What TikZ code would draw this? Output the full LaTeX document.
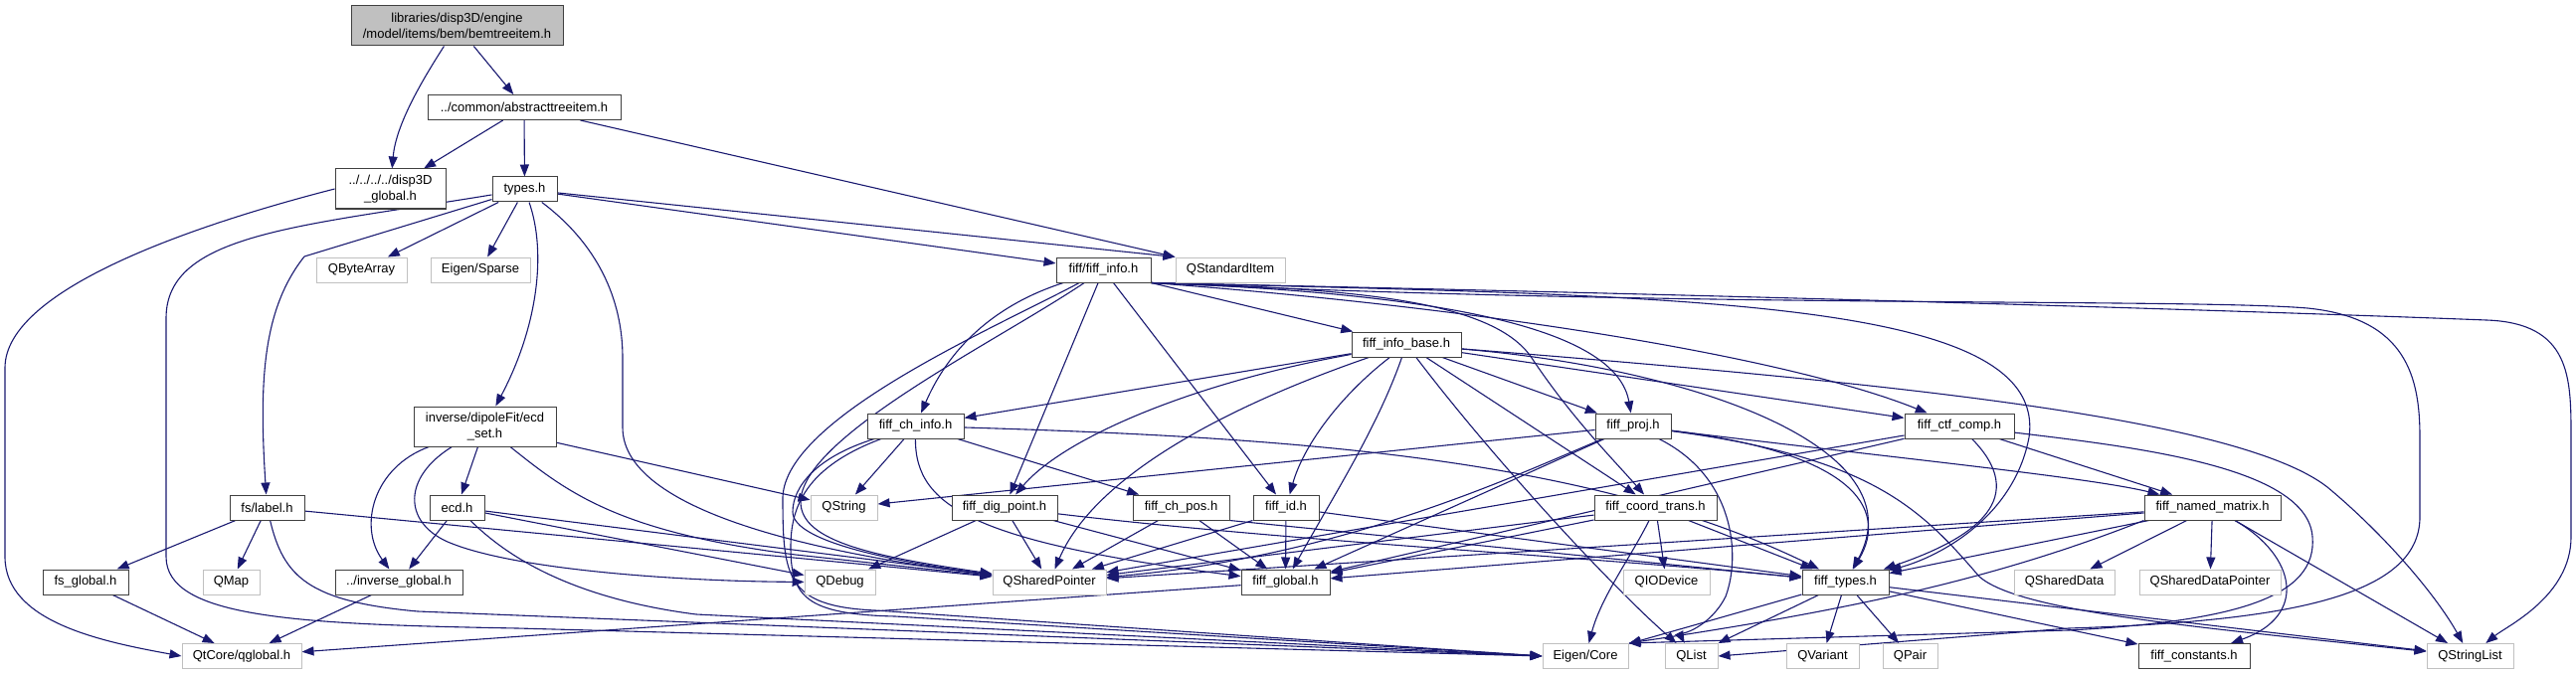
\documentclass[tikz,border=0pt]{standalone}
\usepackage{fontspec}
\setmainfont{Liberation Sans}
\usetikzlibrary{arrows.meta}
\pgfdeclarelayer{bg}
\pgfsetlayers{bg,main}
\definecolor{edgeblue}{HTML}{191970}
\definecolor{boxdark}{HTML}{404040}
\definecolor{boxlight}{HTML}{C0C0C0}
\begin{document}
\begin{tikzpicture}[x=1pt,y=-1pt,
  hdr/.style={draw=boxdark, line width=1pt, fill=white, inner sep=0pt, minimum height=25pt,
              font=\fontsize{13}{16}\selectfont, align=center},
  sys/.style={hdr, draw=boxlight},
  root/.style={hdr, fill=boxlight},
  e/.style={draw=edgeblue, line width=1.1pt, -{Triangle[length=12pt,width=9pt]}}]
\useasboundingbox (0,0) rectangle (2590,679);
% rank 0-2
\node[root, minimum width=213pt, minimum height=40pt] (main) at (459.5,26) {libraries/disp3D/engine\\/model/items/bem/bemtreeitem.h};
\node[hdr, minimum width=194pt] (abs) at (527,108) {../common/abstracttreeitem.h};
\node[hdr, minimum width=111pt, minimum height=40pt] (d3g) at (392.5,190) {../../../../disp3D\\\_global.h};
\node[hdr, minimum width=65pt] (types) at (527.5,190.5) {types.h};
% rank 3
\node[sys, minimum width=91pt] (qba) at (363.5,271.5) {QByteArray};
\node[sys, minimum width=100pt] (esp) at (483,271.5) {Eigen/Sparse};
\node[hdr, minimum width=95pt] (finfo) at (1109.5,271.5) {fiff/fiff\_info.h};
\node[sys, minimum width=110pt] (qsi) at (1237,271.5) {QStandardItem};
% rank 4
\node[hdr, minimum width=110pt] (fib) at (1414,346.5) {fiff\_info\_base.h};
% rank 5
\node[hdr, minimum width=143pt, minimum height=40pt] (ecdset) at (487.5,429) {inverse/dipoleFit/ecd\\\_set.h};
\node[hdr, minimum width=97pt] (fci) at (920.5,428.5) {fiff\_ch\_info.h};
\node[hdr, minimum width=76pt] (fproj) at (1642,428.5) {fiff\_proj.h};
\node[hdr, minimum width=110pt] (fctf) at (1970,428.5) {fiff\_ctf\_comp.h};
% rank 6
\node[hdr, minimum width=75pt] (label) at (268.5,510.5) {fs/label.h};
\node[hdr, minimum width=55pt] (ecd) at (459.5,510.5) {ecd.h};
\node[sys, minimum width=67pt] (qstr) at (848.5,510.5) {QString};
\node[hdr, minimum width=106pt] (fdp) at (1010,510.5) {fiff\_dig\_point.h};
\node[hdr, minimum width=97pt] (fcp) at (1187.5,510.5) {fiff\_ch\_pos.h};
\node[hdr, minimum width=66pt] (fid) at (1293,510.5) {fiff\_id.h};
\node[hdr, minimum width=123pt] (fct) at (1664.5,510.5) {fiff\_coord\_trans.h};
\node[hdr, minimum width=137pt] (fnm) at (2224.5,510.5) {fiff\_named\_matrix.h};
% rank 7
\node[hdr, minimum width=86pt] (fsg) at (86,585.5) {fs\_global.h};
\node[sys, minimum width=57pt] (qmap) at (232.5,585.5) {QMap};
\node[hdr, minimum width=128pt] (invg) at (401,585.5) {../inverse\_global.h};
\node[sys, minimum width=71pt] (qdbg) at (844.5,585.5) {QDebug};
\node[sys, minimum width=114pt] (qsp) at (1055,585.5) {QSharedPointer};
\node[hdr, minimum width=89pt] (fglob) at (1292.5,585.5) {fiff\_global.h};
\node[sys, minimum width=87pt] (qio) at (1675.5,585.5) {QIODevice};
\node[hdr, minimum width=87pt] (ftypes) at (1855.5,585.5) {fiff\_types.h};
\node[sys, minimum width=101pt] (qsd) at (2075.5,585.5) {QSharedData};
\node[sys, minimum width=142pt] (qsdp) at (2222,585.5) {QSharedDataPointer};
% rank 8
\node[sys, minimum width=120pt] (qglob) at (243,660) {QtCore/qglobal.h};
\node[sys, minimum width=86pt] (ecore) at (1594,660) {Eigen/Core};
\node[sys, minimum width=53pt] (qlist) at (1700.5,660) {QList};
\node[sys, minimum width=73pt] (qvar) at (1832.5,660) {QVariant};
\node[sys, minimum width=55pt] (qpair) at (1920.5,660) {QPair};
\node[hdr, minimum width=112pt] (fconst) at (2206,660) {fiff\_constants.h};
\node[sys, minimum width=87pt] (qsl) at (2483.5,660) {QStringList};

\begin{pgfonlayer}{bg}
% main, abstract, disp3D
\draw[e] (main) .. controls (425,80) and (398,125) .. (d3g);
\draw[e] (main) -- (abs);
\draw[e] (abs) -- (d3g);
\draw[e] (abs) -- (types);
\draw[e] (abs) -- (qsi.north west);
\draw[e] (d3g.west) .. controls (200,225) and (5,290) .. (5,370) -- (5,560) .. controls (5,625) and (100,645) .. (qglob.west);
% types.h
\draw[e] (types) -- (qba);
\draw[e] (types) -- (esp);
\draw[e] (types) -- (finfo);
\draw[e] (types) -- (qsi.north west);
\draw[e] (types) -- (306,258) .. controls (265,310) and (260,380) .. (label);
\draw[e] (types) .. controls (300,228) and (167,235) .. (167,320) -- (167,560) .. controls (167,622) and (300,628) .. (520,632) -- (ecore.west);
\draw[e] (types) .. controls (550,255) and (540,330) .. (ecdset);
\draw[e] (types) .. controls (600,245) and (626,300) .. (626,360) -- (626,430) .. controls (626,520) and (850,560) .. (qsp);
% fiff_info.h
\draw[e] (finfo.south east) -- (fib);
\draw[e] (finfo) .. controls (990,310) and (950,360) .. (fci);
\draw[e] (finfo) -- (fdp);
\draw[e] (finfo) -- (fid);
\draw[e] (finfo.south east) .. controls (1450,295) and (1625,330) .. (fproj);
\draw[e] (finfo.south east) .. controls (1500,310) and (1800,360) .. (fctf);
\draw[e] (finfo.south east) .. controls (1350,290) and (1500,300) .. (1540,360) .. controls (1580,420) and (1620,460) .. (fct);
\draw[e] (finfo.south east) .. controls (1700,298) and (2060,300) .. (2040,440) .. controls (2025,520) and (1950,560) .. (ftypes);
\draw[e] (finfo) .. controls (1000,330) and (790,420) .. (787,500) .. controls (787,580) and (790,610) .. (880,614) -- (ecore.west);
\draw[e] (finfo) .. controls (1000,345) and (805,440) .. (805,505) .. controls (805,545) and (880,560) .. (qsp);
\draw[e] (finfo.south east) .. controls (1700,310) and (2200,300) .. (2320,310) .. controls (2420,320) and (2433,380) .. (2433,440) -- (2433,520) .. controls (2433,600) and (2300,625) .. (2080,632) -- (qlist.east);
\draw[e] (finfo.south east) .. controls (1900,300) and (2400,318) .. (2500,322) .. controls (2585,325) and (2585,380) .. (2585,440) -- (2585,540) .. controls (2585,600) and (2520,630) .. (qsl);
% fiff_info_base.h
\draw[e] (fib) -- (fci);
\draw[e] (fib) .. controls (1200,385) and (1070,440) .. (fdp);
\draw[e] (fib) .. controls (1230,410) and (1100,480) .. (qsp);
\draw[e] (fib) .. controls (1345,400) and (1310,450) .. (fid);
\draw[e] (fib) .. controls (1385,430) and (1340,500) .. (fglob);
\draw[e] (fib) -- (fct);
\draw[e] (fib) -- (fproj);
\draw[e] (fib) -- (fctf);
\draw[e] (fib) .. controls (1500,460) and (1620,590) .. (qlist);
\draw[e] (fib) .. controls (1700,370) and (1930,450) .. (ftypes);
\draw[e] (fib) .. controls (1900,385) and (2250,420) .. (2340,490) .. controls (2400,540) and (2450,600) .. (qsl);
% fiff_ch_info.h
\draw[e] (fci) -- (qstr);
\draw[e] (fci) -- (fcp);
\draw[e] (fci) .. controls (920,510) and (980,545) .. (fglob);
\draw[e] (fci) .. controls (1300,440) and (1600,460) .. (ftypes);
\draw[e] (fci) .. controls (820,460) and (797,490) .. (797,515) .. controls (797,545) and (900,565) .. (qsp);
\draw[e] (fci) .. controls (810,470) and (795,510) .. (795,550) .. controls (795,600) and (810,618) .. (900,620) -- (ecore.west);
% fiff_proj.h
\draw[e] (fproj) -- (qstr);
\draw[e] (fproj) .. controls (1520,480) and (1350,560) .. (qsp);
\draw[e] (fproj) -- (fglob);
\draw[e] (fproj) .. controls (1860,455) and (1900,510) .. (ftypes);
\draw[e] (fproj) .. controls (1900,460) and (2100,480) .. (fnm);
\draw[e] (fproj) .. controls (1745,480) and (1750,560) .. (1735,600) .. controls (1720,630) and (1690,640) .. (qlist);
\draw[e] (fproj) .. controls (1880,460) and (1930,510) .. (1990,580) .. controls (2030,615) and (2200,630) .. (qsl);
% fiff_ctf_comp.h
\draw[e] (fctf) -- (fnm);
\draw[e] (fctf) .. controls (2040,500) and (1990,540) .. (ftypes);
\draw[e] (fctf) -- (fglob);
\draw[e] (fctf) -- (qsp);
\draw[e] (fctf) .. controls (2150,450) and (2320,470) .. (2325,540) .. controls (2330,600) and (2250,625) .. (2080,634) -- (ecore.north east);
% fiff_coord_trans.h
\draw[e] (fct) .. controls (1640,560) and (1610,600) .. (ecore);
\draw[e] (fct) -- (qio);
\draw[e] (fct) -- (ftypes);
\draw[e] (fct) -- (fglob);
\draw[e] (fct) -- (qsp);
% fiff_dig_point.h, fiff_ch_pos.h, fiff_id.h
\draw[e] (fdp) -- (qdbg);
\draw[e] (fdp) -- (fglob);
\draw[e] (fdp) -- (qsp);
\draw[e] (fdp) .. controls (1300,545) and (1600,560) .. (ftypes);
\draw[e] (fcp) -- (qsp);
\draw[e] (fcp) -- (fglob);
\draw[e] (fcp.south east) -- (ftypes);
\draw[e] (fid) -- (fglob);
\draw[e] (fid.south west) -- (qsp);
\draw[e] (fid) -- (ftypes);
% fiff_named_matrix.h
\draw[e] (fnm) -- (qsd);
\draw[e] (fnm) -- (qsdp);
\draw[e] (fnm) -- (qsl);
\draw[e] (fnm) .. controls (2310,560) and (2320,620) .. (fconst);
\draw[e] (fnm) -- (ftypes);
\draw[e] (fnm) -- (fglob);
\draw[e] (fnm) -- (qsp);
\draw[e] (fnm.south west) .. controls (2000,585) and (1850,615) .. (ecore.north east);
% fiff_types.h
\draw[e] (ftypes) -- (ecore);
\draw[e] (ftypes) -- (qlist);
\draw[e] (ftypes) -- (qvar);
\draw[e] (ftypes) -- (qpair);
\draw[e] (ftypes) -- (fconst);
\draw[e] (ftypes) -- (qsl);
% globals
\draw[e] (fglob) -- (qglob);
\draw[e] (fsg) -- (qglob);
\draw[e] (invg) -- (qglob);
% fs/label.h
\draw[e] (label) -- (fsg);
\draw[e] (label) -- (qmap);
\draw[e] (label) -- (qsp);
\draw[e] (label) .. controls (285,580) and (310,605) .. (420,615) -- (ecore.west);
% ecd_set.h, ecd.h
\draw[e] (ecdset) -- (ecd);
\draw[e] (ecdset) .. controls (375,470) and (360,530) .. (invg);
\draw[e] (ecdset) -- (qstr);
\draw[e] (ecdset) .. controls (570,495) and (620,535) .. (800,558) -- (qsp);
\draw[e] (ecdset) .. controls (405,480) and (405,525) .. (450,545) .. controls (520,575) and (700,585) .. (qdbg);
\draw[e] (ecd) -- (invg);
\draw[e] (ecd) -- (qdbg);
\draw[e] (ecd) -- (qsp);
\draw[e] (ecd) .. controls (500,550) and (560,600) .. (700,618) -- (ecore.west);
\end{pgfonlayer}
\end{tikzpicture}
\end{document}
